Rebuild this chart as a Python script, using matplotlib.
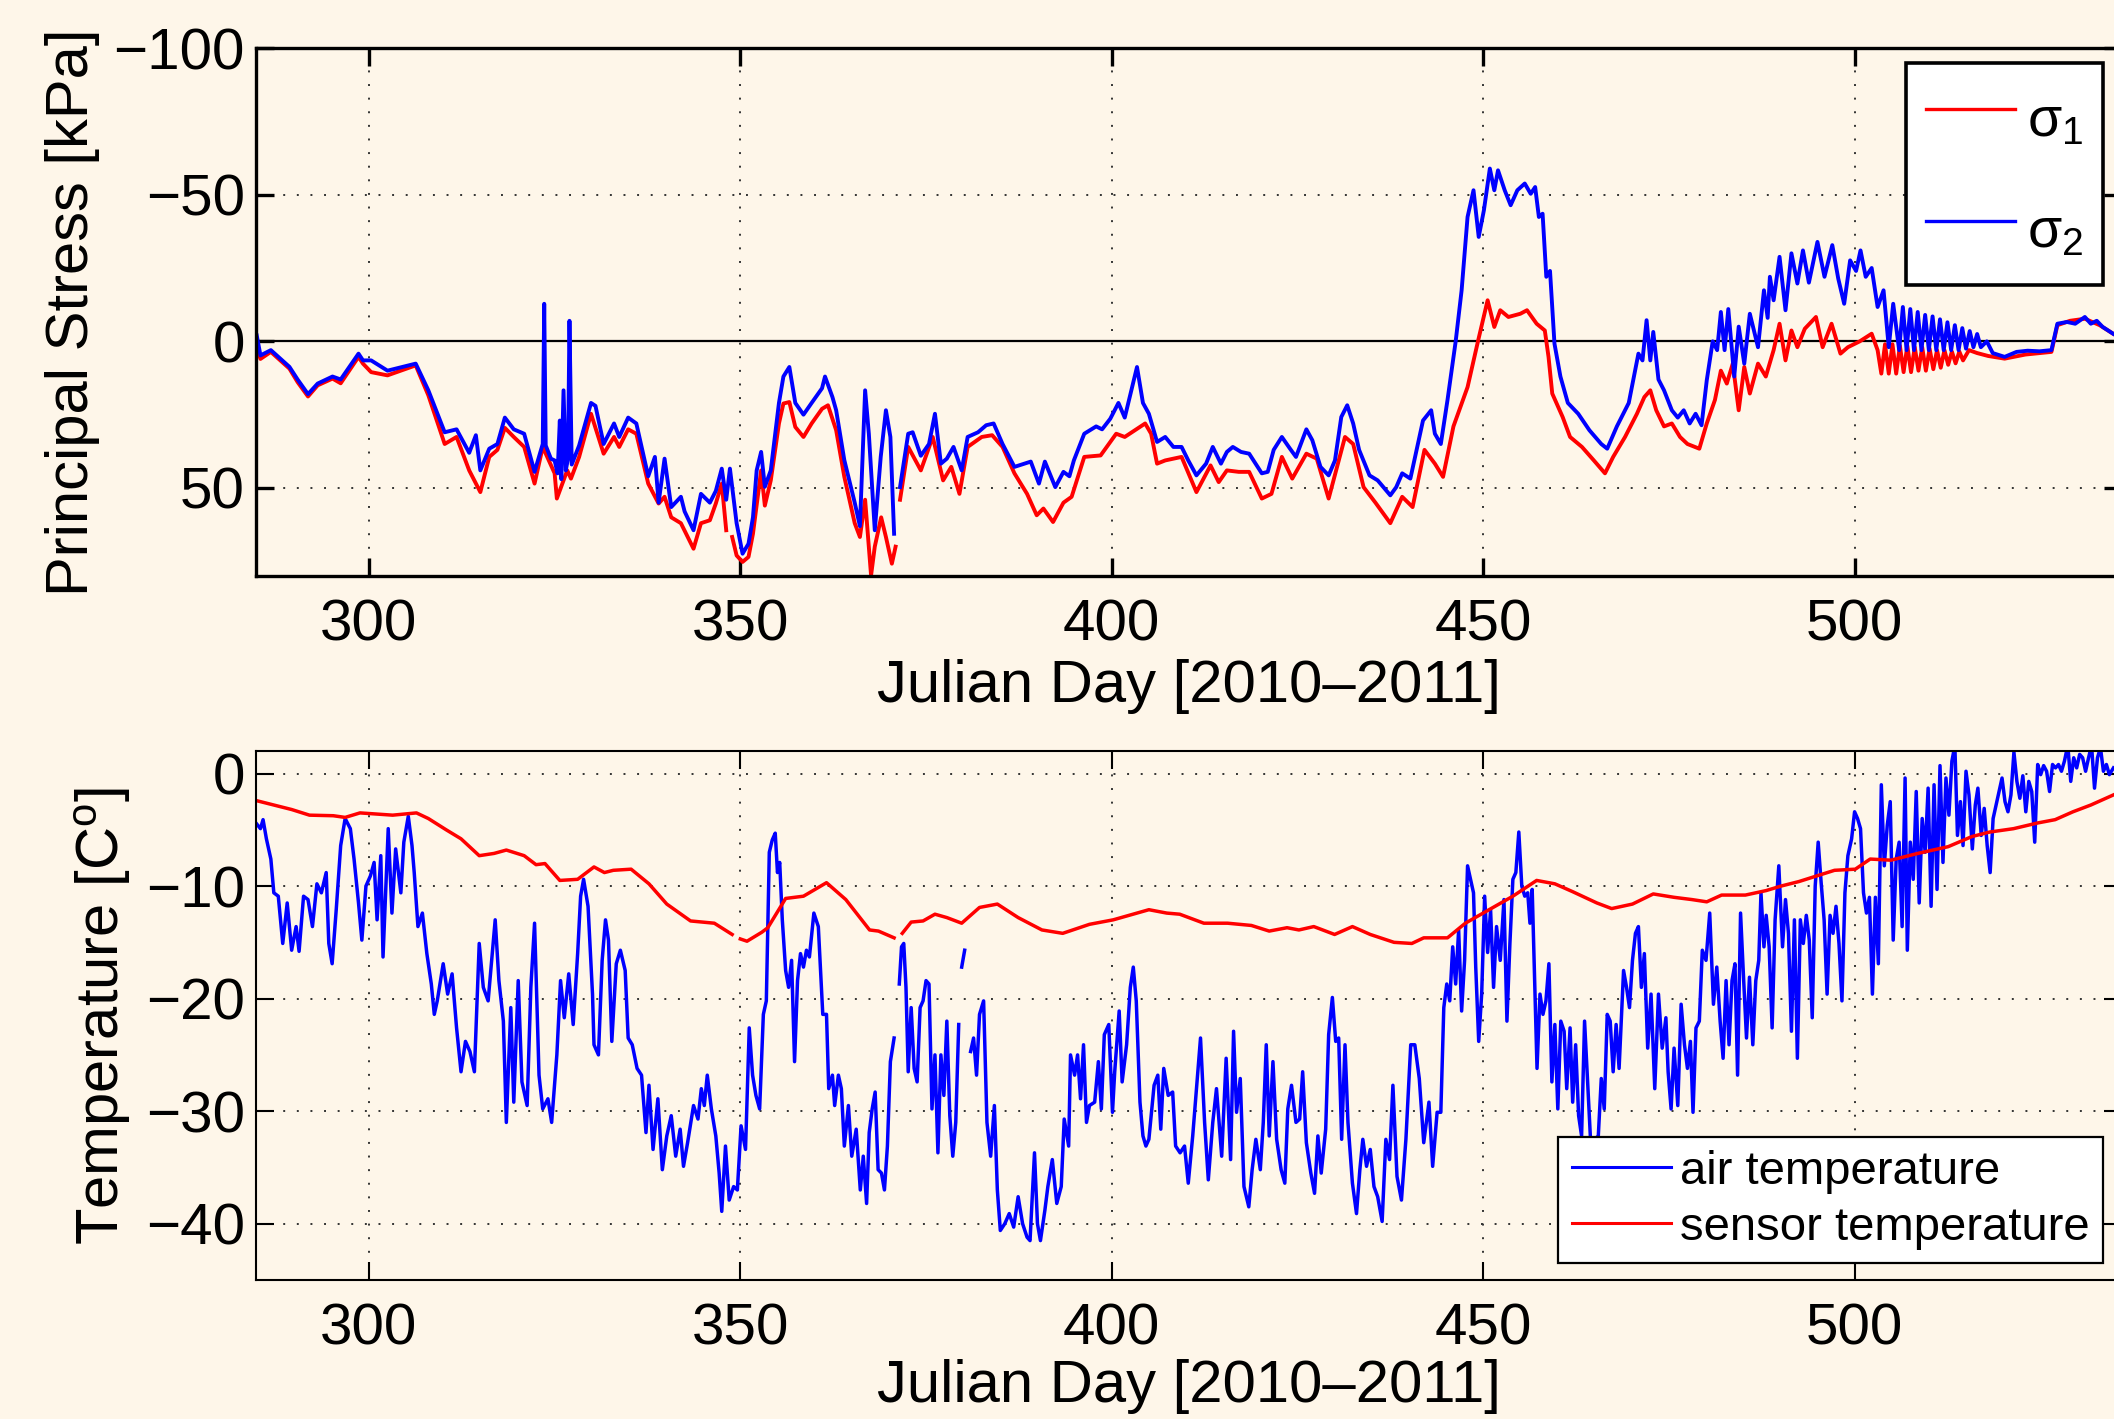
import numpy as np
import matplotlib
matplotlib.use("Agg")
import matplotlib.pyplot as plt

nan = float("nan")

# ---------------- data ----------------
x_ticks = [300, 350, 400, 450, 500, 550]
stress_ticks = [-100, -50, 0, 50]
temp_ticks = [-40, -30, -20, -10, 0]

# principal stress sigma_1 (red), (julian day, kPa)
sigma1 = [
    (284.9, 2), (285.4, 6), (286.8, 3.6), (289.3, 9.3), (290.4, 13.9), (291.8, 18.8), (293.1, 15),
    (295.1, 12.7), (296.2, 14.3), (298.6, 5.3), (299.2, 7.6), (300.3, 10.5), (302.5, 11.6), (306.3, 8.2),
    (308.0, 18.4), (310.2, 35), (311.8, 32.6), (313.5, 44), (315.0, 51.4), (316.2, 39.4), (317.3, 37),
    (318.3, 29.5), (319.5, 32.6), (320.9, 36), (322.3, 48.5), (323.4, 36), (325.0, 45), (325.3, 53.6),
    (326.7, 44), (327.2, 46.8), (328.3, 39.4), (329.9, 24.7), (331.6, 38.3), (333.0, 32.6), (333.7, 36),
    (334.9, 30), (336.0, 31.5), (337.6, 48.5), (339.0, 55.3), (339.8, 53), (340.7, 60), (342.0, 62),
    (343.7, 70.7), (344.7, 62), (345.9, 61), (346.7, 55.3), (347.5, 48.5), (348.1, 64.4), (348.3, nan),
    (348.9, 66.7), (349.5, 73), (350.3, 75.2), (351.1, 73.5), (351.7, 65.6), (352.8, 44), (353.3, 56),
    (354.1, 47.4), (355.2, 28), (355.8, 21.2), (356.6, 20.7), (357.4, 29.2), (358.5, 32.6), (359.6, 28),
    (361.0, 23), (361.8, 21.8), (362.9, 30.3), (364.0, 46.2), (365.4, 62), (366.1, 66.7), (366.8, 54),
    (367.6, 79.8), (368.1, 70), (368.96, 60), (369.6, 66.7), (370.4, 75.8), (370.9, 70), (371.2, nan),
    (371.5, 54), (372.6, 36), (374.3, 44), (375.9, 32.6), (377.3, 47.4), (378.4, 42.8), (379.5, 52),
    (380.6, 36), (382.5, 32.6), (383.9, 32), (385.3, 36), (386.9, 45), (388.6, 52), (389.9, 59.3),
    (390.8, 57), (392.1, 61.6), (393.5, 55), (394.6, 53), (396.3, 39.4), (398.5, 38.9), (400.6, 31.5),
    (401.75, 32.6), (404.5, 28), (405.3, 31.5), (406.1, 41.7), (407.2, 40.6), (409.4, 39.4), (411.4, 51.4),
    (413.3, 42.3), (414.4, 48), (415.5, 44), (417.1, 44.5), (418.5, 44.5), (420.2, 53.6), (421.5, 52),
    (422.9, 39.4), (424.3, 46.8), (426.2, 38.3), (427.6, 40), (429.2, 53.6), (431.4, 32.6), (432.5, 35),
    (433.9, 49.7), (435.5, 55), (437.5, 62), (439.1, 53), (440.5, 56.5), (442.1, 37), (443.5, 41.7),
    (444.6, 46.2), (446.0, 29), (447.9, 15.6), (449.3, 0), (450.6, -14), (451.5, -4.9), (452.3, -10.6),
    (453.4, -8.3), (455.0, -9.4), (455.9, -10.6), (457.2, -6), (458.3, -3.7), (458.8, 5.3), (459.3, 17.8),
    (460.7, 25.8), (461.7, 32.6), (463.3, 36), (464.9, 40.6), (466.4, 45), (467.5, 39.4), (469.1, 32.6),
    (470.7, 24.7), (471.7, 19), (472.5, 16.7), (473.3, 23.5), (474.35, 29), (475.4, 28), (476.5, 32.6),
    (477.5, 35), (479.1, 36.6), (480.1, 28), (481.2, 20), (482.0, 10), (482.8, 14.4), (483.6, 7.6),
    (484.4, 23.5), (485.15, 8.75), (485.9, 17.8), (487.0, 7.6), (488.05, 12), (489.1, 3), (489.9, -6),
    (490.7, 6.5), (491.5, -3.7), (492.3, 2), (493.3, -4.3), (494.8, -8.3), (495.7, 2), (496.9, -6),
    (498.1, 4.2), (499.1, 2), (500.7, 0), (502.3, -2.6), (503.1, 3), (503.6, 11), (504.1, 1), (504.6, 11),
    (505.1, 1), (505.6, 11), (506.1, 1.5), (506.6, 10.5), (507.1, 1.5), (507.6, 10.5), (508.1, 2),
    (508.6, 10), (509.1, 2), (509.6, 10), (510.1, 2.5), (510.6, 9.5), (511.1, 3), (511.6, 9), (512.1, 3),
    (512.6, 8), (513.1, 3.5), (513.6, 7.5), (514.1, 3.5), (514.6, 6.5), (515.4, 3), (516.5, 4), (518.0, 5),
    (520.2, 5.9), (523.0, 4.5), (526.5, 3.6), (527.3, -5.5), (529.0, -7), (531.0, -7.7), (533.0, -5.5),
    (534.8, -2.6),
]

# principal stress sigma_2 (blue), (julian day, kPa)
sigma2 = [
    (284.9, -2), (285.4, 4.8), (286.8, 3), (289.3, 8.7), (290.4, 13), (291.8, 18), (293.1, 14.4),
    (295.1, 12), (296.2, 13), (298.6, 4.2), (299.2, 6.5), (300.3, 6.5), (302.5, 10), (306.3, 7.6),
    (308.0, 16.7), (310.2, 31), (311.8, 30), (313.5, 38), (314.4, 32), (315.0, 44), (316.2, 36.6),
    (317.3, 35), (318.3, 26), (319.5, 30), (320.9, 31.5), (322.3, 44.5), (323.4, 35), (323.6, -12.8),
    (323.8, 35.5), (324.5, 40), (325.0, 40.6), (325.4, 45), (325.7, 27), (325.9, 47), (326.2, 16.7),
    (326.5, 44), (326.8, 40), (327.0, -7), (327.3, 42), (328.3, 35.5), (329.9, 21), (330.5, 22),
    (331.6, 35), (333.0, 28), (333.7, 32.6), (334.9, 26), (336.0, 28), (337.6, 46), (338.5, 39.4),
    (339.0, 55), (339.8, 40), (340.7, 56.5), (342.0, 53), (342.5, 58), (343.7, 64.4), (344.7, 52),
    (345.9, 55), (346.7, 51), (347.5, 43.4), (348.1, 54), (348.6, 43.4), (349.5, 62), (350.3, 72.4),
    (351.1, 69), (351.7, 60), (352.2, 44), (352.8, 37.7), (353.3, 49.6), (354.1, 44), (355.2, 21),
    (355.8, 12), (356.6, 8.75), (357.4, 21), (358.5, 25), (359.6, 21), (361.0, 16), (361.4, 12),
    (362.4, 19), (362.9, 23.5), (364.0, 40.5), (365.4, 55), (366.1, 63), (366.8, 16.7), (367.3, 31.5),
    (368.1, 64.4), (368.9, 39.4), (369.6, 23.5), (370.2, 32.6), (370.7, 65.6), (371.1, nan),
    (371.5, 49.7), (372.6, 31.5), (373.2, 31), (374.3, 39), (375.4, 35), (376.2, 24.7), (377.0, 41.7),
    (377.8, 40), (378.7, 36), (379.8, 44), (380.6, 32.6), (382.0, 31), (383.1, 28.6), (384.1, 28),
    (385.3, 35), (386.9, 42.8), (389.1, 41), (390.2, 48.5), (391.0, 41), (392.4, 49.7), (393.5, 44.5),
    (394.3, 46), (394.9, 40.6), (396.3, 31.5), (397.9, 29), (398.7, 30), (399.8, 26.4), (400.9, 21),
    (401.75, 26), (403.4, 8.75), (404.2, 21), (405.0, 24.7), (406.1, 34.3), (407.2, 32.6), (408.3, 36),
    (409.4, 36), (410.3, 40.6), (411.4, 45.7), (412.7, 41.7), (413.6, 36), (414.7, 41.7), (415.5, 37.7),
    (416.3, 36), (417.4, 37.7), (418.5, 38.3), (420.2, 45), (421.0, 44.5), (421.8, 37), (422.9, 32.6),
    (424.0, 36.6), (424.8, 39.4), (426.2, 30), (427.0, 33.7), (428.1, 42.8), (429.2, 45.7),
    (430.05, 40.6), (430.9, 25.8), (431.7, 21.8), (432.5, 28), (433.3, 37), (434.7, 45.7), (435.8, 47.4),
    (437.5, 52.5), (438.3, 49.7), (439.1, 45), (440.2, 46.8), (441.9, 27), (443.0, 23.5), (443.5, 31.5),
    (444.3, 35), (445.2, 20), (446.3, 0), (447.1, -17.4), (447.9, -42.4), (448.7, -51.5), (449.4, -35.6),
    (450.1, -44.7), (450.9, -58.9), (451.5, -51.5), (452.0, -58.3), (452.9, -51.5), (453.7, -46.4),
    (454.6, -51.5), (455.6, -53.8), (456.4, -50.3), (457.0, -52.6), (457.5, -42.4), (458.0, -43.5),
    (458.5, -22), (459.0, -24), (459.6, 0.8), (460.4, 12), (461.4, 21), (462.8, 24.7), (464.3, 30.3),
    (465.9, 35), (466.7, 36.6), (468.0, 29), (469.6, 21), (470.9, 4.2), (471.45, 6.5), (472.0, -7.2),
    (472.5, 6.5), (472.9, -3.2), (473.6, 13), (474.35, 16.7), (475.4, 23.5), (476.2, 26), (477.0, 23.5),
    (477.8, 28), (478.6, 24.7), (479.4, 28.6), (480.1, 13.3), (480.9, 0), (481.5, 3), (482.0, -10),
    (482.5, 3), (483.0, -11), (483.8, 12), (484.4, -5), (485.15, 7.6), (485.9, -9.4), (487.0, 2),
    (487.8, -17.4), (488.3, -8), (488.6, -22), (489.1, -14), (489.9, -28.8), (490.7, -10.6), (491.5, -30),
    (492.3, -19.7), (493.05, -31), (493.85, -20), (495.0, -33.9), (495.95, -22), (497.0, -32.8),
    (497.8, -21.4), (498.6, -12.8), (499.4, -27.6), (500.2, -24), (500.8, -31), (501.5, -22), (502.3, -25),
    (503.1, -11.7), (503.9, -17.4), (504.6, 2), (505.2, -12.8), (506.0, 3), (506.5, -11.7), (507.0, 3),
    (507.5, -11), (508.0, 3), (508.5, -10), (509.0, 3), (509.5, -9), (510.0, 3), (510.5, -8.5), (511.0, 3),
    (511.5, -7.5), (512.0, 3), (512.5, -6.5), (513.0, 3), (513.5, -5.5), (514.0, 3), (514.5, -4.5),
    (515.0, 2.5), (515.5, -3.5), (516.0, 2), (516.5, -2.5), (517.0, 2), (517.8, 0), (518.6, 4),
    (520.2, 5.3), (521.8, 3.6), (523.3, 3.2), (524.9, 3.4), (526.5, 3), (527.3, -6), (528.6, -6.6),
    (529.7, -6), (531.0, -8.3), (531.8, -6), (532.6, -7), (533.4, -4.9), (534.8, -2.6),
]

# air temperature (blue), (julian day, deg C)
air_temperature = [
    (284.8, -4.4), (285.4, -4.9), (285.75, -4.1), (286.2, -5.8), (286.8, -7.6), (287.2, -10.6),
    (287.8, -10.9), (288.4, -15.1), (289.0, -11.5), (289.6, -15.7), (290.2, -13.6), (290.6, -15.8),
    (291.2, -10.9), (291.8, -11.2), (292.4, -13.6), (293.0, -9.8), (293.6, -10.6), (294.25, -8.8),
    (294.6, -15.1), (295.05, -16.9), (295.6, -12.1), (296.2, -6.4), (296.8, -4.0), (297.5, -4.9),
    (298.0, -7.6), (298.6, -11.5), (299.05, -14.8), (299.6, -10.0), (300.2, -9.1), (300.7, -7.9),
    (301.1, -13.0), (301.6, -7.3), (301.9, -16.3), (302.6, -4.9), (303.1, -12.4), (303.6, -6.7),
    (304.3, -10.6), (304.7, -6.1), (305.3, -3.8), (305.8, -6.4), (306.1, -8.8), (306.6, -13.6),
    (307.2, -12.4), (307.8, -16.0), (308.4, -18.7), (308.8, -21.4), (309.2, -20.2), (310.0, -16.9),
    (310.6, -19.6), (311.2, -17.8), (311.8, -22.6), (312.4, -26.5), (313.0, -23.8), (313.6, -24.7),
    (314.2, -26.5), (314.85, -15.1), (315.4, -19.0), (316.05, -20.2), (316.45, -17.2), (317.0, -13.0),
    (317.5, -18.4), (318.1, -22.0), (318.5, -31.0), (319.1, -20.8), (319.5, -29.2), (320.1, -18.4),
    (320.6, -27.4), (321.3, -29.5), (321.8, -19.0), (322.3, -13.3), (322.9, -26.8), (323.4, -29.8),
    (324.1, -28.9), (324.6, -31.0), (325.3, -25.0), (325.8, -18.4), (326.3, -21.7), (326.9, -17.8),
    (327.5, -22.3), (328.1, -16.0), (328.5, -10.9), (328.9, -9.4), (329.5, -11.8), (330.1, -19.6),
    (330.3, -24.1), (330.9, -25.0), (331.4, -16.6), (331.85, -13.0), (332.25, -14.8), (332.7, -23.8),
    (333.3, -16.9), (333.85, -15.7), (334.5, -17.5), (334.9, -23.5), (335.45, -24.1), (336.1, -26.2),
    (336.7, -26.8), (337.3, -31.9), (337.7, -27.7), (338.25, -33.4), (338.9, -28.9), (339.5, -35.2),
    (340.1, -32.2), (340.7, -30.4), (341.3, -34.0), (341.9, -31.6), (342.35, -34.9), (342.9, -32.8),
    (343.7, -29.5), (344.3, -30.7), (344.75, -28.0), (345.15, -29.5), (345.55, -26.8), (346.1, -29.8),
    (346.7, -32.2), (347.15, -35.5), (347.5, -38.9), (348.0, -33.1), (348.5, -37.9), (349.1, -36.7),
    (349.6, -37.0), (350.1, -31.3), (350.7, -33.4), (351.2, -22.6), (351.65, -26.8), (352.1, -28.6),
    (352.6, -29.8), (353.1, -21.4), (353.5, -20.2), (353.9, -7.0), (354.3, -5.9), (354.7, -5.3),
    (355.0, -8.8), (355.3, -7.9), (355.65, -13.0), (356.1, -17.5), (356.5, -19.0), (356.9, -16.6),
    (357.3, -25.6), (357.7, -18.4), (358.1, -16.0), (358.5, -17.2), (358.9, -15.7), (359.3, -16.3),
    (359.9, -12.4), (360.5, -13.6), (361.1, -21.4), (361.6, -21.4), (361.9, -28.0), (362.4, -26.8),
    (362.7, -29.5), (363.2, -26.8), (363.6, -28.0), (364.0, -33.1), (364.55, -29.5), (365.0, -34.0),
    (365.6, -31.6), (366.15, -37.0), (366.55, -34.0), (367.0, -38.2), (367.35, -31.9), (367.75, -29.8),
    (368.15, -28.3), (368.55, -35.2), (369.0, -35.5), (369.4, -37.0), (369.8, -33.1), (370.2, -25.6),
    (370.7, -23.5), (371.0, nan), (371.4, -18.7), (371.7, -15.4), (372.0, -15.1), (372.3, -19.0),
    (372.6, -26.5), (373.0, -20.8), (373.4, -26.2), (373.8, -27.4), (374.2, -20.8), (374.6, -20.2),
    (375.0, -18.4), (375.4, -18.7), (375.8, -29.8), (376.2, -25.0), (376.6, -33.7), (377.0, -25.0),
    (377.4, -28.6), (377.8, -22.0), (378.2, -30.4), (378.6, -34.0), (379.0, -31.0), (379.4, -22.3),
    (379.6, nan), (379.8, -17.2), (380.2, -15.7), (380.6, nan), (381.0, -24.7), (381.4, -23.5),
    (381.8, -26.8), (382.2, -21.4), (382.75, -20.2), (383.2, -31.0), (383.7, -34.0), (384.2, -29.5),
    (384.6, -37.0), (385.0, -40.6), (385.6, -40.0), (386.2, -39.1), (386.8, -40.3), (387.4, -37.6),
    (388.0, -40.0), (388.6, -41.2), (389.0, -41.5), (389.6, -33.7), (390.0, -40.0), (390.4, -41.5),
    (391.0, -38.8), (391.4, -36.7), (392.0, -34.3), (392.6, -38.2), (393.2, -36.7), (393.6, -30.7),
    (394.2, -33.1), (394.45, -25.0), (395.0, -26.8), (395.4, -25.0), (395.8, -28.9), (396.2, -24.1),
    (396.6, -31.0), (397.0, -29.5), (397.7, -29.2), (398.2, -25.6), (398.6, -29.8), (399.0, -23.2),
    (399.6, -22.3), (400.1, -30.1), (400.4, -26.5), (401.0, -21.1), (401.4, -27.4), (402.0, -24.1),
    (402.5, -19.0), (402.9, -17.2), (403.3, -20.2), (403.8, -29.2), (404.2, -32.2), (404.6, -33.1),
    (405.0, -32.5), (405.7, -27.7), (406.2, -26.8), (406.6, -31.6), (407.0, -26.2), (407.6, -28.6),
    (408.2, -28.3), (408.6, -33.1), (409.2, -33.7), (409.8, -33.1), (410.3, -36.4), (410.9, -32.2),
    (411.4, -28.0), (411.95, -23.5), (412.5, -31.0), (413.0, -36.1), (413.6, -31.0), (414.1, -28.0),
    (414.8, -34.0), (415.4, -25.3), (416.0, -34.3), (416.4, -22.9), (416.8, -30.1), (417.3, -27.1),
    (417.8, -36.7), (418.45, -38.5), (418.9, -35.2), (419.4, -32.5), (420.0, -35.2), (420.4, -31.0),
    (420.8, -24.1), (421.2, -32.2), (421.7, -25.6), (422.2, -32.5), (422.8, -35.2), (423.3, -36.4),
    (423.7, -29.8), (424.2, -27.7), (424.8, -31.0), (425.3, -30.7), (425.7, -26.5), (426.2, -32.8),
    (426.8, -35.5), (427.3, -37.3), (427.75, -32.2), (428.2, -35.5), (428.8, -31.6), (429.2, -23.2),
    (429.7, -19.9), (430.15, -23.8), (430.55, -23.5), (430.95, -32.5), (431.4, -24.1), (431.8, -31.0),
    (432.4, -36.4), (432.95, -39.1), (433.4, -35.2), (433.8, -32.5), (434.3, -34.9), (434.8, -33.4),
    (435.3, -36.7), (435.8, -37.6), (436.4, -39.8), (436.9, -32.5), (437.4, -34.3), (437.85, -27.7),
    (438.4, -35.8), (439.0, -37.9), (439.6, -32.5), (440.25, -24.1), (440.8, -24.1), (441.4, -27.1),
    (442.0, -32.8), (442.7, -29.2), (443.2, -34.9), (443.8, -30.1), (444.3, -30.1), (444.7, -20.8),
    (445.1, -18.7), (445.5, -20.2), (445.9, -15.4), (446.3, -18.7), (446.7, -13.9), (447.1, -21.1),
    (447.5, -16.6), (447.9, -8.2), (448.3, -9.4), (448.7, -10.6), (449.0, -17.2), (449.4, -23.8),
    (449.8, -19.6), (450.2, -10.9), (450.6, -15.9), (451.0, -12.1), (451.4, -19.0), (451.8, -13.6),
    (452.3, -16.6), (452.8, -11.2), (453.2, -22.0), (453.6, -15.1), (454.0, -9.4), (454.4, -8.8),
    (454.8, -5.2), (455.2, -10.0), (455.6, -10.9), (456.0, -10.6), (456.3, -13.3), (456.6, -10.3),
    (456.9, -17.8), (457.25, -26.2), (457.65, -19.6), (458.05, -21.4), (458.45, -20.2), (458.85, -16.9),
    (459.25, -27.4), (459.65, -22.3), (460.05, -29.8), (460.45, -22.0), (460.9, -22.9), (461.25, -28.0),
    (461.7, -22.6), (462.05, -29.2), (462.45, -24.1), (462.85, -30.4), (463.25, -32.2), (463.65, -22.0),
    (464.1, -28.0), (464.45, -32.5), (465.0, -32.5), (465.5, -32.2), (465.9, -27.1), (466.3, -29.8),
    (466.7, -21.4), (467.1, -22.0), (467.5, -26.5), (467.9, -22.3), (468.3, -26.2), (468.9, -17.5),
    (469.3, -19.0), (469.7, -20.8), (470.1, -16.6), (470.5, -14.2), (470.9, -13.6), (471.3, -19.0),
    (471.7, -16.0), (472.15, -24.4), (472.6, -19.6), (473.1, -28.0), (473.6, -19.6), (474.1, -24.4),
    (474.6, -21.7), (474.9, -26.5), (475.3, -29.8), (475.7, -24.4), (476.2, -29.5), (476.65, -20.5),
    (477.1, -24.1), (477.5, -26.2), (477.9, -23.8), (478.25, -30.1), (478.65, -22.6), (479.1, -22.0),
    (479.5, -15.7), (480.0, -16.6), (480.5, -12.4), (481.0, -20.5), (481.45, -17.2), (481.9, -22.0),
    (482.3, -25.3), (482.7, -18.4), (483.1, -24.1), (483.5, -18.4), (483.9, -16.9), (484.25, -26.8),
    (484.65, -12.4), (485.05, -18.1), (485.45, -23.5), (485.85, -18.1), (486.3, -24.1), (486.7, -18.4),
    (487.1, -16.6), (487.4, -10.6), (487.8, -15.4), (488.1, -12.6), (488.5, -15.4), (488.9, -22.6),
    (489.3, -13.0), (489.8, -8.2), (490.3, -15.4), (490.7, -11.2), (491.1, -14.2), (491.5, -22.9),
    (491.9, -13.0), (492.3, -25.3), (492.7, -13.0), (493.1, -15.1), (493.5, -12.6), (493.9, -14.8),
    (494.3, -21.7), (494.7, -10.0), (495.1, -6.1), (495.5, -9.7), (495.9, -13.0), (496.3, -19.6),
    (496.7, -12.6), (497.1, -14.2), (497.5, -11.8), (497.9, -15.1), (498.3, -20.2), (498.7, -10.6),
    (499.1, -7.3), (499.6, -5.8), (500.0, -3.4), (500.4, -4.0), (500.8, -4.9), (501.2, -10.6),
    (501.6, -12.4), (502.0, -11.0), (502.4, -19.6), (502.8, -11.0), (503.2, -16.9), (503.6, -1.0),
    (504.0, -8.2), (504.4, -4.6), (504.8, -2.5), (505.2, -14.8), (505.6, -7.6), (506.0, -6.1),
    (506.4, -13.6), (506.8, -0.4), (507.1, -15.7), (507.5, -6.1), (507.9, -9.4), (508.3, -1.6),
    (508.7, -11.5), (509.1, -4.0), (509.5, -7.0), (509.9, -1.3), (510.3, -11.8), (510.7, -1.0),
    (511.1, -10.3), (511.5, 0.7), (511.9, -7.9), (512.3, -0.4), (512.7, -3.7), (513.1, 1.1),
    (513.5, 2.5), (513.85, -5.5), (514.25, -2.5), (514.6, -6.4), (515.0, 0.2), (515.4, -1.9),
    (515.85, -6.7), (516.25, -2.8), (516.6, -1.3), (517.05, -5.5), (517.45, -3.1), (517.85, -6.4),
    (518.25, -8.8), (518.65, -4.0), (519.05, -2.8), (519.45, -1.6), (519.85, -0.4), (520.25, -2.5),
    (520.65, -3.4), (521.05, -1.9), (521.45, 1.9), (521.85, -0.7), (522.25, -2.2), (522.65, -0.2),
    (523.05, -3.4), (523.45, -0.7), (523.85, -1.6), (524.25, -6.1), (524.65, 0.8), (525.05, -0.1),
    (525.45, 0.7), (525.85, 0.2), (526.25, -1.6), (526.65, 0.8), (527.05, 0.5), (527.45, 0.8),
    (527.85, 0.2), (528.25, 1.1), (528.7, 2.5), (529.1, -0.7), (529.5, 1.4), (529.9, 0.5), (530.3, 1.7),
    (530.7, 1.4), (531.1, 0.2), (531.5, 1.4), (531.9, 2.5), (532.3, -1.3), (532.7, 1.4), (533.1, 2.3),
    (533.5, 0.2), (533.9, 0.8), (534.3, -0.1), (534.85, 0.5),
]

# sensor temperature (red), (julian day, deg C)
sensor_temperature = [
    (284.8, -2.4), (287.2, -2.8), (289.6, -3.2), (292.0, -3.7), (295.2, -3.75), (296.8, -3.9),
    (298.8, -3.5), (303.2, -3.7), (306.4, -3.5), (308.0, -4.0), (310.4, -5.0), (312.4, -5.8),
    (314.85, -7.3), (316.85, -7.1), (318.5, -6.8), (320.9, -7.3), (322.5, -8.1), (323.7, -8.0),
    (325.7, -9.5), (328.1, -9.4), (330.3, -8.3), (331.7, -8.8), (332.9, -8.6), (335.3, -8.5),
    (337.7, -9.8), (340.1, -11.6), (343.3, -13.1), (346.5, -13.3), (348.9, -14.3), (349.5, nan),
    (350.0, -14.7), (350.9, -14.9), (352.9, -14.1), (353.7, -13.7), (356.1, -11.1), (358.5, -10.9),
    (361.6, -9.7), (364.2, -11.2), (367.4, -13.9), (368.6, -14.0), (370.7, -14.6), (371.1, nan),
    (371.8, -14.2), (373.0, -13.2), (374.6, -13.1), (376.2, -12.5), (377.8, -12.8), (379.8, -13.3),
    (382.2, -11.9), (384.6, -11.6), (387.4, -12.8), (390.6, -13.9), (393.4, -14.2), (397.0, -13.4),
    (400.2, -13.0), (405.0, -12.1), (407.4, -12.4), (409.15, -12.5), (412.4, -13.3), (415.6, -13.3),
    (418.8, -13.5), (421.2, -14.0), (423.6, -13.7), (425.2, -13.9), (427.2, -13.6), (430.0, -14.3),
    (432.4, -13.6), (434.8, -14.3), (438.0, -15.0), (440.4, -15.1), (442.0, -14.6), (445.2, -14.6),
    (447.6, -13.3), (450.8, -12.1), (454.0, -10.9), (457.2, -9.5), (459.65, -9.8), (462.05, -10.5),
    (465.3, -11.5), (467.3, -12.0), (470.1, -11.6), (472.9, -10.7), (475.7, -11.0), (478.1, -11.2),
    (480.1, -11.4), (482.1, -10.8), (485.3, -10.8), (488.1, -10.4), (490.1, -10.0), (492.5, -9.6),
    (494.9, -9.1), (497.3, -8.6), (500.1, -8.5), (502.1, -7.6), (504.9, -7.7), (508.5, -7.1),
    (512.6, -6.5), (515.8, -5.6), (518.2, -5.2), (521.4, -4.9), (524.6, -4.4), (527.0, -4.1),
    (529.4, -3.4), (531.8, -2.8), (534.85, -1.9),
]

s1_day, s1_kpa = np.array(sigma1, dtype=float).T
s2_day, s2_kpa = np.array(sigma2, dtype=float).T
air_day, air_temp = np.array(air_temperature, dtype=float).T
sen_day, sen_temp = np.array(sensor_temperature, dtype=float).T

# ---------------- styling ----------------
BG = "#FEF6E9"
RED = "#FF0000"
BLUE = "#0000FF"
plt.rcParams["font.family"] = ["Liberation Sans", "DejaVu Sans"]
plt.rcParams["mathtext.fontset"] = "custom"
plt.rcParams["mathtext.rm"] = "Liberation Sans"
plt.rcParams["mathtext.it"] = "Liberation Sans"
plt.rcParams["mathtext.bf"] = "Liberation Sans"
plt.rcParams["axes.unicode_minus"] = True

W, H = 2114, 1419
fig = plt.figure(figsize=(W / 100, H / 100), dpi=100, facecolor=BG)


def rect(x0, y0, x1, y1):
    return [x0 / W, 1 - y1 / H, (x1 - x0) / W, (y1 - y0) / H]


ax1 = fig.add_axes(rect(256, 48, 2122, 576))
ax2 = fig.add_axes(rect(256, 751, 2122, 1280))

TICK_FS = 42
LABEL_FS = 43


def style(ax, spine_w, ylim, yticks):
    ax.set_facecolor(BG)
    ax.set_xticks(x_ticks)
    ax.set_yticks(yticks)
    ax.set_xlim(284.8, 536.0)
    ax.set_ylim(*ylim)
    for s in ax.spines.values():
        s.set_linewidth(spine_w)
        s.set_color("black")
    ax.tick_params(axis="both", which="major", direction="in", length=13, width=spine_w,
                   top=True, right=True, labelsize=TICK_FS, colors="black")
    ax.tick_params(axis="x", pad=16)
    ax.tick_params(axis="y", pad=8)
    ax.grid(True, color="0.2", linewidth=1.4, linestyle=(0, (1, 6)))
    ax.set_axisbelow(True)


style(ax1, 2.4, (80, -100), stress_ticks)
style(ax2, 1.5, (-45, 2), temp_ticks)

# top panel: principal stresses
ax1.axhline(0, color="black", lw=1.6, zorder=1.5)
ax1.plot(s1_day, s1_kpa, color=RED, lw=2.8, label="σ$_1$", zorder=2)
ax1.plot(s2_day, s2_kpa, color=BLUE, lw=2.8, label="σ$_2$", zorder=2.1)
ax1.set_xlabel("Julian Day [2010–2011]", fontsize=LABEL_FS)
ax1.set_ylabel("Principal Stress [kPa]", fontsize=LABEL_FS, va="baseline")
ax1.yaxis.set_label_coords((88 - 256) / 1866, 0.5)
ax1.xaxis.set_label_coords(0.5, 1 - (702 - 48) / 528)
ax1.xaxis.label.set_va("baseline")

leg1 = ax1.legend(loc="upper right", bbox_to_anchor=(2103 / W, 1 - 63 / H),
                  bbox_transform=fig.transFigure, fontsize=40, frameon=True, fancybox=False,
                  framealpha=1, facecolor="white", edgecolor="black", handlelength=1.6,
                  handleheight=1.6, handletextpad=0.22, labelspacing=0.72, borderpad=0.35,
                  borderaxespad=0)
leg1.get_frame().set_linewidth(2.6)
for ln in leg1.get_lines():
    ln.set_linewidth(2.4)

# bottom panel: temperatures
ax2.plot(air_day, air_temp, color=BLUE, lw=2.5, label="air temperature", zorder=2)
ax2.plot(sen_day, sen_temp, color=RED, lw=2.5, label="sensor temperature", zorder=2.1)
ax2.set_xlabel("Julian Day [2010–2011]", fontsize=LABEL_FS)
ax2.set_ylabel("Temperature [C$^{o}$]", fontsize=LABEL_FS, va="baseline")
ax2.yaxis.set_label_coords((119 - 256) / 1866, 0.5)
ax2.xaxis.set_label_coords(0.5, -(1402 - 1280) / 529)
ax2.xaxis.label.set_va("baseline")

leg2 = ax2.legend(loc="lower right", bbox_to_anchor=(2103 / W, 1 - 1263 / H),
                  bbox_transform=fig.transFigure, fontsize=34, frameon=True, fancybox=False,
                  framealpha=1, facecolor="white", edgecolor="black", handlelength=2.1,
                  handletextpad=0.2, labelspacing=0.25, borderpad=0.28, borderaxespad=0)
leg2.get_frame().set_linewidth(1.6)
for ln in leg2.get_lines():
    ln.set_linewidth(2.2)

fig.savefig("out.png", dpi=100, facecolor=BG)
